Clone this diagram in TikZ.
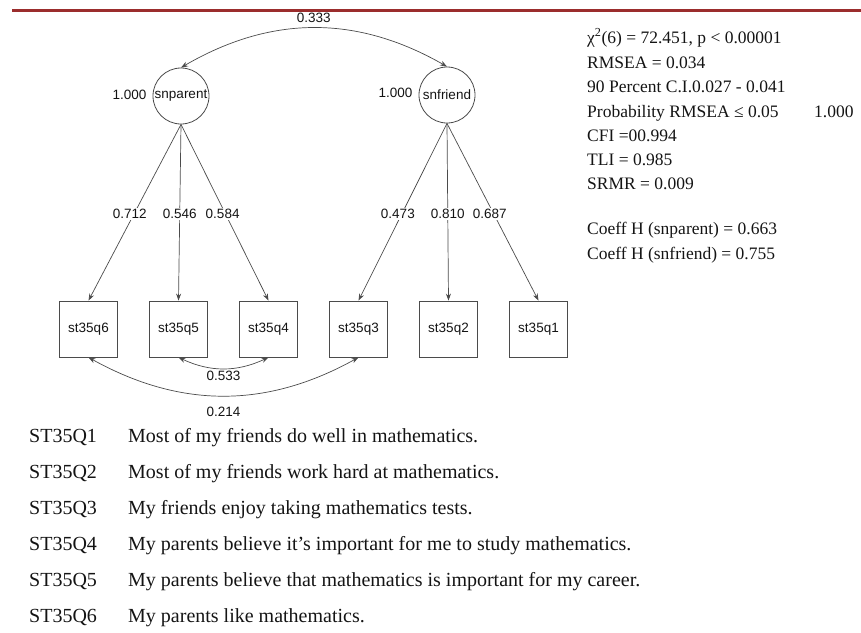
\documentclass[tikz,border=0pt]{standalone}
\usepackage{fontspec}
\setmainfont{Liberation Serif}
\newfontfamily\arialf{Liberation Sans}
\usetikzlibrary{arrows.meta}
\definecolor{linegray}{RGB}{75,75,75}
\definecolor{rulered}{RGB}{155,45,45}
\definecolor{txt}{RGB}{20,20,20}
\begin{document}
\begin{tikzpicture}[x=1pt,y=1pt,
  lat/.style={circle,draw=linegray,line width=0.8pt,minimum size=56pt,inner sep=0pt,text=txt,font=\arialf\fontsize{13.5}{16}\selectfont},
  obs/.style={rectangle,draw=linegray,line width=0.8pt,minimum width=58pt,minimum height=56pt,inner sep=0pt,text=txt,font=\arialf\fontsize{13.5}{16}\selectfont},
  lbl/.style={font=\arialf\fontsize{13.5}{16}\selectfont,inner sep=1pt,text=txt},
  load/.style={draw=linegray,line width=0.7pt,-{Stealth[length=7pt,width=5pt]}},
  cov/.style={draw=linegray,line width=0.7pt,{Stealth[length=7pt,width=5pt]}-{Stealth[length=7pt,width=5pt]}},
  stat/.style={anchor=base west,inner sep=0pt,text=txt,font=\fontsize{17.5}{20}\selectfont},
  item/.style={anchor=base west,inner sep=0pt,text=txt,font=\fontsize{20}{23}\selectfont},
]
\path[use as bounding box] (0,0) rectangle (861,-632);
\draw[draw=rulered,line width=2.2pt] (12,-10.5) -- (861,-10.5);

% latent variables
\node[lat] (snparent) at (181,-96) {snparent};
\node[lat] (snfriend) at (447,-95) {snfriend};
\node[lbl,anchor=east] (vp) at ([xshift=-5pt,yshift=1pt]snparent.west) {1.000};
\node[lbl,anchor=east] (vf) at ([xshift=-5pt,yshift=2pt]snfriend.west) {1.000};

% observed variables
\node[obs] (q6) at (88.5,-329) {st35q6};
\node[obs] (q5) at (178.5,-329) {st35q5};
\node[obs] (q4) at (268.5,-329) {st35q4};
\node[obs] (q3) at (358.5,-329) {st35q3};
\node[obs] (q2) at (448.5,-329) {st35q2};
\node[obs] (q1) at (538.5,-329) {st35q1};

% loadings
\draw[load] (snparent.south) -- node[lbl,fill=white,pos=0.51,xshift=-4pt] {0.712} (q6.north);
\draw[load] (snparent.south) -- node[lbl,fill=white,pos=0.51] {0.546} (q5.north);
\draw[load] (snparent.south) -- node[lbl,fill=white,pos=0.51,xshift=-3pt] {0.584} (q4.north);
\draw[load] (snfriend.south) -- node[lbl,fill=white,pos=0.51,xshift=-4pt] {0.473} (q3.north);
\draw[load] (snfriend.south) -- node[lbl,fill=white,pos=0.51] {0.810} (q2.north);
\draw[load] (snfriend.south) -- node[lbl,fill=white,pos=0.51,xshift=-4pt] {0.687} (q1.north);

% covariances
\draw[cov] (snparent.north) to[bend left=30] node[lbl,above=4pt] {0.333} (snfriend.north);
\draw[cov] (q5.south) to[bend right=25] node[lbl,below=1pt] {0.533} (q4.south);
\draw[cov] (q6.south) to[bend right=29] node[lbl,below=10pt] {0.214} (q3.south);

% fit statistics
\node[stat] (s1) at (587,-43) {χ\textsuperscript{2}(6) = 72.451, p < 0.00001};
\node[stat] (s2) at (587,-68) {RMSEA = 0.034};
\node[stat] (s3) at (587,-92) {90 Percent C.I.0.027 - 0.041};
\node[stat] (s4) at (587,-117) {Probability RMSEA ≤ 0.05};
\node[stat] (s4b) at (814,-117) {1.000};
\node[stat] (s5) at (587,-141) {CFI =00.994};
\node[stat] (s6) at (587,-165) {TLI = 0.985};
\node[stat] (s7) at (587,-189) {SRMR = 0.009};
\node[stat] (s8) at (587,-234) {Coeff H (snparent) = 0.663};
\node[stat] (s9) at (587,-259) {Coeff H (snfriend) = 0.755};

% item list
\node[item] (c1) at (29,-442) {ST35Q1};
\node[item] (d1) at (128,-442) {Most of my friends do well in mathematics.};
\node[item] (c2) at (29,-478) {ST35Q2};
\node[item] (d2) at (128,-478) {Most of my friends work hard at mathematics.};
\node[item] (c3) at (29,-514) {ST35Q3};
\node[item] (d3) at (128,-514) {My friends enjoy taking mathematics tests.};
\node[item] (c4) at (29,-550) {ST35Q4};
\node[item] (d4) at (128,-550) {My parents believe it’s important for me to study mathematics.};
\node[item] (c5) at (29,-586) {ST35Q5};
\node[item] (d5) at (128,-586) {My parents believe that mathematics is important for my career.};
\node[item] (c6) at (29,-622) {ST35Q6};
\node[item] (d6) at (128,-622) {My parents like mathematics.};
\end{tikzpicture}
\end{document}
